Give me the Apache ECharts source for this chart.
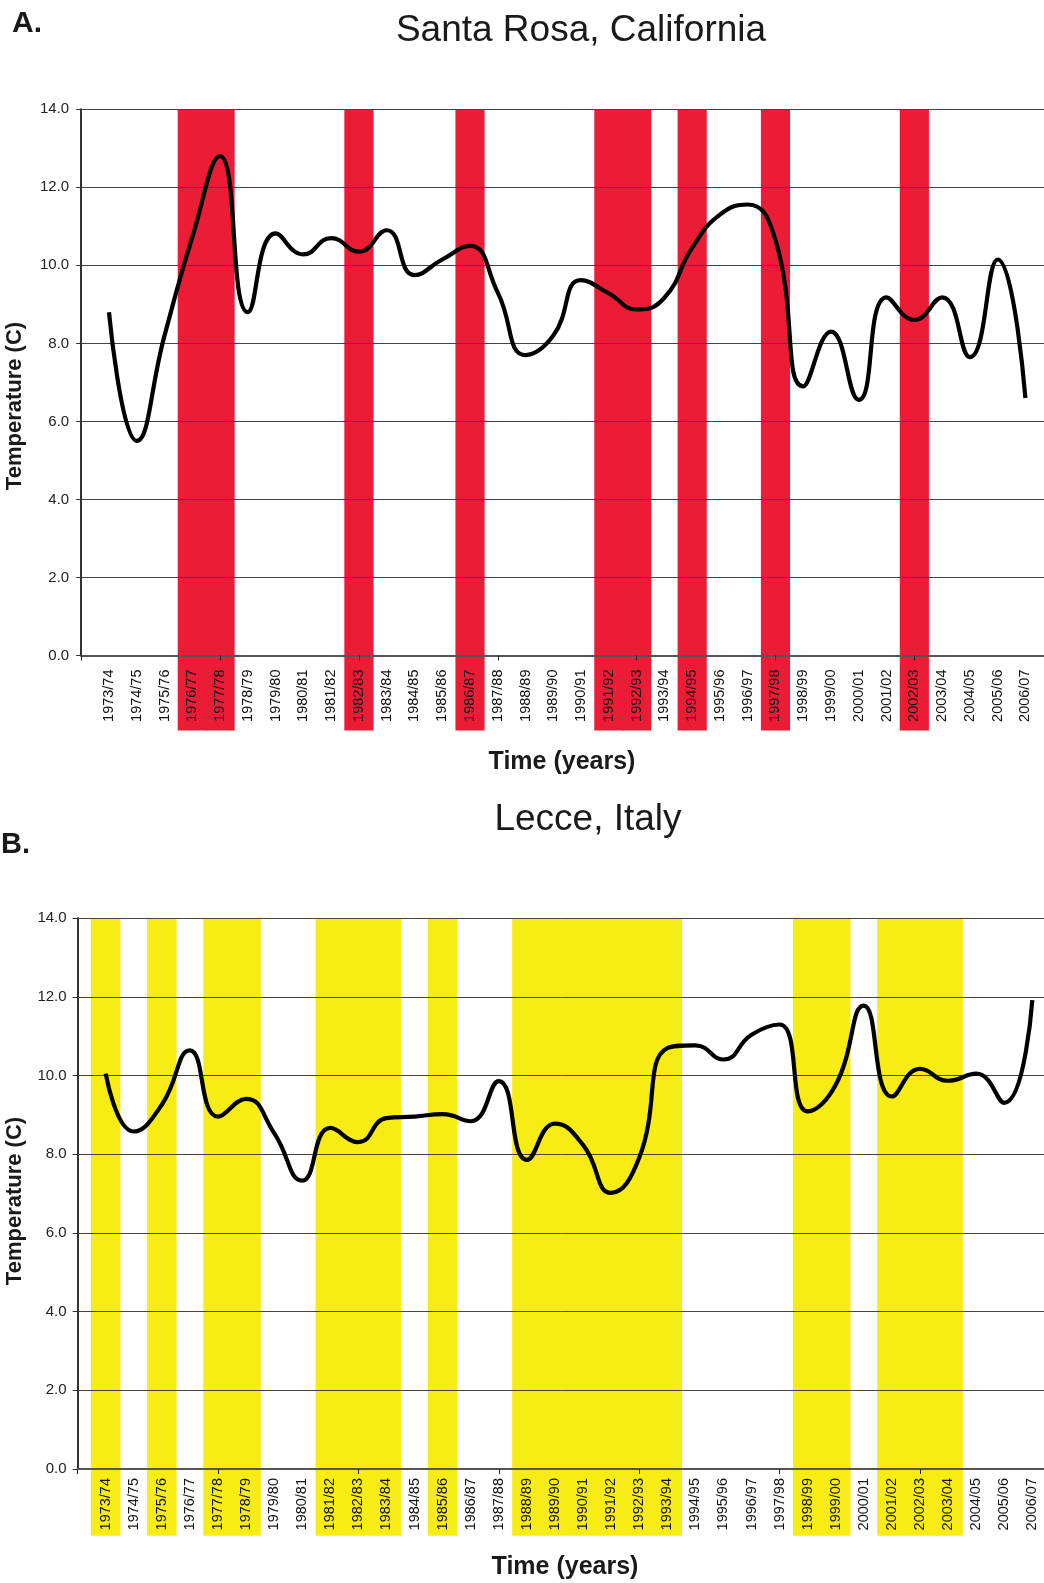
<!DOCTYPE html>
<html>
<head>
<meta charset="utf-8">
<script src="https://cdn.jsdelivr.net/npm/echarts@6/dist/echarts.min.js"></script>
<style>
html,body{margin:0;padding:0;background:#fff;}
#chart{width:1044px;height:1583px;}
</style>
</head>
<body>
<div id="chart"></div>
<script>
// ---- data ----
const years = ['1973/74','1974/75','1975/76','1976/77','1977/78','1978/79','1979/80','1980/81','1981/82','1982/83',
  '1983/84','1984/85','1985/86','1986/87','1987/88','1988/89','1989/90','1990/91','1991/92','1992/93',
  '1993/94','1994/95','1995/96','1996/97','1997/98','1998/99','1999/00','2000/01','2001/02','2002/03',
  '2003/04','2004/05','2005/06','2006/07'];
const santaRosaTemp = [8.8, 5.5, 8.2, 10.72, 12.8, 8.8, 10.82, 10.28, 10.7, 10.35,
  10.9, 9.75, 10.15, 10.5, 9.3, 7.7, 8.2, 9.62, 9.28, 8.87,
  9.17, 10.45, 11.3, 11.56, 10.65, 6.9, 8.3, 6.55, 9.18, 8.6,
  9.18, 7.65, 10.15, 6.6];
const lecceTemp = [10.05, 8.58, 9.26, 10.64, 8.96, 9.41, 8.54, 7.33, 8.67, 8.31,
  8.92, 8.96, 9.02, 8.84, 9.86, 7.86, 8.78, 8.24, 7.02, 7.91,
  10.7, 10.77, 10.41, 11.04, 11.3, 9.09, 9.77, 11.78, 9.47, 10.17,
  9.87, 10.05, 9.31, 11.92];
const santaRosaBandYears = ['1976/77','1977/78','1982/83','1986/87','1991/92','1992/93','1994/95','1997/98','2002/03'];
const lecceBandYears = ['1973/74','1975/76','1977/78','1978/79','1981/82','1982/83','1983/84','1985/86',
  '1988/89','1989/90','1990/91','1991/92','1992/93','1993/94','1998/99','1999/00','2001/02','2002/03','2003/04'];
const yTicks = [0, 2, 4, 6, 8, 10, 12, 14];

// ---- build ----
const FONT = '"Liberation Sans", Arial, Helvetica, sans-serif';
const cats = [''].concat(years, ['']);
const bandData = (list, v) => cats.map(c => list.includes(c) ? v : '-');
const lineData = vals => ['-'].concat(vals, ['-']);
const yMin = yTicks[0], yMax = yTicks[yTicks.length - 1], yStep = yTicks[1] - yTicks[0];

function xAxis(grid, margin) {
  return {
    type: 'category', gridIndex: grid, data: cats, boundaryGap: false, z: 4,
    axisLine: { show: true, onZero: false, lineStyle: { color: '#555', width: 2 } },
    axisTick: { show: true, interval: 4, length: 5, lineStyle: { color: '#222', width: 1 } },
    axisLabel: { interval: 0, rotate: 90, fontSize: 14.5, color: '#111', margin: margin, fontFamily: FONT },
    splitLine: { show: false }
  };
}
function yAxis(grid, margin) {
  return {
    type: 'value', gridIndex: grid, min: yMin, max: yMax, interval: yStep, z: 3,
    axisLine: { show: true, lineStyle: { color: '#333', width: 2 } },
    axisTick: { show: true, length: 5, lineStyle: { color: '#333', width: 1 } },
    axisLabel: { formatter: v => v.toFixed(1), fontSize: 15, color: '#222', margin: margin, fontFamily: FONT },
    splitLine: { show: true, lineStyle: { color: '#444', width: 1 } }
  };
}
function bands(grid, list, color, below) {
  const base = { type: 'bar', xAxisIndex: grid, yAxisIndex: grid, stack: 'band' + grid, barWidth: '105%',
    itemStyle: { color: color }, clip: false, z: 1, silent: true };
  return [
    Object.assign({}, base, { data: bandData(list, yMax) }),
    Object.assign({}, base, { data: bandData(list, below) })
  ];
}
function line(grid, vals) {
  return { type: 'line', xAxisIndex: grid, yAxisIndex: grid, data: lineData(vals), smooth: 0.5,
    symbol: 'none', lineStyle: { color: '#000', width: 4.2 }, z: 5, silent: true };
}
function txt(text, x, y, font, align, rot) {
  return { type: 'text', x: x, y: y, rotation: rot || 0, silent: true,
    style: { text: text, font: font, fill: '#1a1a1a', textAlign: align || 'center', textVerticalAlign: 'middle' } };
}

const chart = echarts.init(document.getElementById('chart'), null, { renderer: 'canvas' });
chart.setOption({
  animation: false,
  backgroundColor: '#fff',
  grid: [
    { left: 81.2, top: 109.3, right: -9.2, bottom: 927.5, containLabel: false, outerBoundsMode: 'none' },
    { left: 77.6, top: 918.3, right: -16.4, bottom: 114, containLabel: false, outerBoundsMode: 'none' }
  ],
  xAxis: [xAxis(0, 14), xAxis(1, 9)],
  yAxis: [yAxis(0, 12), yAxis(1, 11)],
  series: [].concat(
    bands(0, santaRosaBandYears, '#ED1C36', -1.92),
    bands(1, lecceBandYears, '#F7EC14', -1.70),
    [line(0, santaRosaTemp), line(1, lecceTemp)]
  ),
  graphic: [
    txt('A.', 12, 24, 'bold 30px ' + FONT, 'left'),
    txt('B.', 1, 845, 'bold 29px ' + FONT, 'left'),
    txt('Santa Rosa, California', 581, 31, '37px ' + FONT),
    txt('Lecce, Italy', 588, 820, '37px ' + FONT),
    txt('Time (years)', 562, 762, 'bold 25px ' + FONT),
    txt('Time (years)', 565, 1567, 'bold 25px ' + FONT),
    txt('Temperature (C)', 15, 406, 'bold 22px ' + FONT, 'center', Math.PI / 2),
    txt('Temperature (C)', 15, 1201, 'bold 22px ' + FONT, 'center', Math.PI / 2)
  ]
});
</script>
</body>
</html>
